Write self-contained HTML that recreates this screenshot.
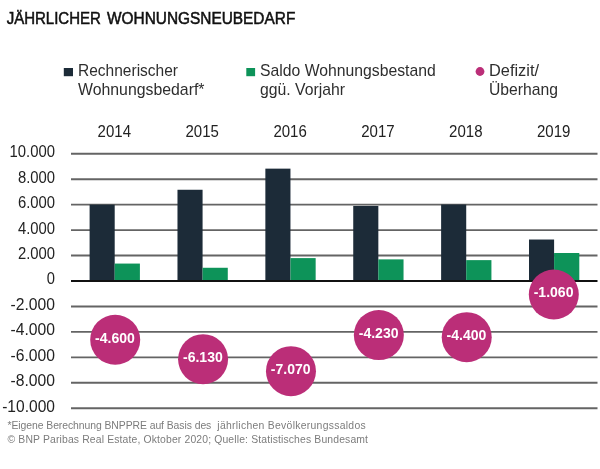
<!DOCTYPE html>
<html lang="de">
<head>
<meta charset="utf-8">
<title>Jährlicher Wohnungsneubedarf</title>
<style>
html,body{margin:0;padding:0;background:#fff;}
body{width:600px;height:469px;overflow:hidden;font-family:"Liberation Sans",sans-serif;}
svg{display:block;}
text{font-family:"Liberation Sans",sans-serif;}
.t{font-size:17.1px;fill:#111;stroke:#111;stroke-width:0.55px;}
.lg{font-size:16.6px;fill:#2e2e2e;}
.yr{font-size:17px;fill:#222;text-anchor:middle;}
.ax{font-size:17px;fill:#222;text-anchor:end;}
.bl{font-size:14.9px;font-weight:bold;fill:#fff;text-anchor:middle;}
.fn{font-size:10.4px;fill:#7c7c7c;}
</style>
</head>
<body>
<svg width="600" height="469" viewBox="0 0 600 469">
<rect width="600" height="469" fill="#ffffff"/>
<text class="t" y="24"><tspan x="6.7" textLength="94.2" lengthAdjust="spacingAndGlyphs">JÄHRLICHER</tspan> <tspan x="107" textLength="188.3" lengthAdjust="spacingAndGlyphs">WOHNUNGSNEUBEDARF</tspan></text>
<rect x="63.8" y="68" width="9.2" height="8.2" fill="#1c2b38"/>
<text class="lg"><tspan x="78" y="75.6" textLength="100" lengthAdjust="spacingAndGlyphs">Rechnerischer</tspan> <tspan x="78" y="95.3" textLength="126.5" lengthAdjust="spacingAndGlyphs">Wohnungsbedarf*</tspan></text>
<rect x="246.3" y="68" width="8.8" height="8.2" fill="#0d9359"/>
<text class="lg"><tspan x="260" y="75.6" textLength="175.7" lengthAdjust="spacingAndGlyphs">Saldo Wohnungsbestand</tspan> <tspan x="260" y="95.3" textLength="85" lengthAdjust="spacingAndGlyphs">ggü. Vorjahr</tspan></text>
<circle cx="480" cy="71.5" r="4.4" fill="#bb2e78"/>
<text class="lg"><tspan x="489" y="75.6" textLength="50" lengthAdjust="spacingAndGlyphs">Defizit/</tspan> <tspan x="489" y="95.3" textLength="69" lengthAdjust="spacingAndGlyphs">Überhang</tspan></text>
<text class="yr" x="114.3" y="137.4" textLength="33.4" lengthAdjust="spacingAndGlyphs">2014</text>
<text class="yr" x="202.2" y="137.4" textLength="33.4" lengthAdjust="spacingAndGlyphs">2015</text>
<text class="yr" x="290.1" y="137.4" textLength="33.4" lengthAdjust="spacingAndGlyphs">2016</text>
<text class="yr" x="377.9" y="137.4" textLength="33.4" lengthAdjust="spacingAndGlyphs">2017</text>
<text class="yr" x="465.8" y="137.4" textLength="33.4" lengthAdjust="spacingAndGlyphs">2018</text>
<text class="yr" x="553.7" y="137.4" textLength="33.4" lengthAdjust="spacingAndGlyphs">2019</text>
<line x1="71.0" x2="597.5" y1="153.75" y2="153.75" stroke="#646464" stroke-width="1.9"/>
<line x1="71.0" x2="597.5" y1="179.20" y2="179.20" stroke="#646464" stroke-width="1.9"/>
<line x1="71.0" x2="597.5" y1="204.65" y2="204.65" stroke="#646464" stroke-width="1.9"/>
<line x1="71.0" x2="597.5" y1="230.10" y2="230.10" stroke="#646464" stroke-width="1.9"/>
<line x1="71.0" x2="597.5" y1="255.55" y2="255.55" stroke="#646464" stroke-width="1.9"/>
<line x1="71.0" x2="597.5" y1="306.45" y2="306.45" stroke="#646464" stroke-width="1.9"/>
<line x1="71.0" x2="597.5" y1="331.90" y2="331.90" stroke="#646464" stroke-width="1.9"/>
<line x1="71.0" x2="597.5" y1="357.35" y2="357.35" stroke="#646464" stroke-width="1.9"/>
<line x1="71.0" x2="597.5" y1="382.80" y2="382.80" stroke="#646464" stroke-width="1.9"/>
<line x1="71.0" x2="597.5" y1="408.25" y2="408.25" stroke="#646464" stroke-width="1.9"/>
<text class="ax" x="55" y="157.15" textLength="45.4" lengthAdjust="spacingAndGlyphs">10.000</text>
<text class="ax" x="55" y="182.60" textLength="37.1" lengthAdjust="spacingAndGlyphs">8.000</text>
<text class="ax" x="55" y="208.05" textLength="37.1" lengthAdjust="spacingAndGlyphs">6.000</text>
<text class="ax" x="55" y="233.50" textLength="37.1" lengthAdjust="spacingAndGlyphs">4.000</text>
<text class="ax" x="55" y="258.95" textLength="37.1" lengthAdjust="spacingAndGlyphs">2.000</text>
<text class="ax" x="55" y="284.40" textLength="8.2" lengthAdjust="spacingAndGlyphs">0</text>
<text class="ax" x="55" y="309.85" textLength="44.5" lengthAdjust="spacingAndGlyphs">-2.000</text>
<text class="ax" x="55" y="335.30" textLength="44.5" lengthAdjust="spacingAndGlyphs">-4.000</text>
<text class="ax" x="55" y="360.75" textLength="44.5" lengthAdjust="spacingAndGlyphs">-6.000</text>
<text class="ax" x="55" y="386.20" textLength="44.5" lengthAdjust="spacingAndGlyphs">-8.000</text>
<text class="ax" x="55" y="411.65" textLength="52.8" lengthAdjust="spacingAndGlyphs">-10.000</text>
<rect x="89.60" y="204.65" width="25.1" height="76.35" fill="#1c2b38"/>
<rect x="114.70" y="263.57" width="25.2" height="17.43" fill="#0d9359"/>
<rect x="177.48" y="189.76" width="25.1" height="91.24" fill="#1c2b38"/>
<rect x="202.58" y="267.77" width="25.2" height="13.23" fill="#0d9359"/>
<rect x="265.36" y="168.64" width="25.1" height="112.36" fill="#1c2b38"/>
<rect x="290.46" y="258.10" width="25.2" height="22.90" fill="#0d9359"/>
<rect x="353.24" y="205.92" width="25.1" height="75.08" fill="#1c2b38"/>
<rect x="378.34" y="259.37" width="25.2" height="21.63" fill="#0d9359"/>
<rect x="441.12" y="204.52" width="25.1" height="76.48" fill="#1c2b38"/>
<rect x="466.22" y="260.13" width="25.2" height="20.87" fill="#0d9359"/>
<rect x="529.00" y="239.52" width="25.1" height="41.48" fill="#1c2b38"/>
<rect x="554.10" y="253.00" width="25.2" height="28.00" fill="#0d9359"/>
<line x1="71.0" x2="597.5" y1="281.0" y2="281.0" stroke="#111" stroke-width="1.9"/>
<circle cx="115.20" cy="339.73" r="25" fill="#bb2e78"/>
<text class="bl" x="115.00" y="342.63" textLength="39.8" lengthAdjust="spacingAndGlyphs">-4.600</text>
<circle cx="203.08" cy="359.20" r="25" fill="#bb2e78"/>
<text class="bl" x="202.88" y="362.10" textLength="39.8" lengthAdjust="spacingAndGlyphs">-6.130</text>
<circle cx="290.96" cy="371.17" r="25" fill="#bb2e78"/>
<text class="bl" x="290.76" y="374.07" textLength="39.8" lengthAdjust="spacingAndGlyphs">-7.070</text>
<circle cx="378.84" cy="335.03" r="25" fill="#bb2e78"/>
<text class="bl" x="378.64" y="337.93" textLength="39.8" lengthAdjust="spacingAndGlyphs">-4.230</text>
<circle cx="466.72" cy="337.19" r="25" fill="#bb2e78"/>
<text class="bl" x="466.52" y="340.09" textLength="39.8" lengthAdjust="spacingAndGlyphs">-4.400</text>
<circle cx="553.80" cy="294.49" r="25" fill="#bb2e78"/>
<text class="bl" x="553.60" y="297.39" textLength="39.8" lengthAdjust="spacingAndGlyphs">-1.060</text>
<text class="fn" y="428.8"><tspan x="7.5" textLength="203.8" lengthAdjust="spacing">*Eigene Berechnung BNPPRE auf Basis des</tspan> <tspan x="217.3" textLength="148.4" lengthAdjust="spacing">jährlichen Bevölkerungssaldos</tspan></text>
<text class="fn" x="7.5" y="442.9" textLength="360.5" lengthAdjust="spacing">© BNP Paribas Real Estate, Oktober 2020; Quelle: Statistisches Bundesamt</text>
</svg>
</body>
</html>
